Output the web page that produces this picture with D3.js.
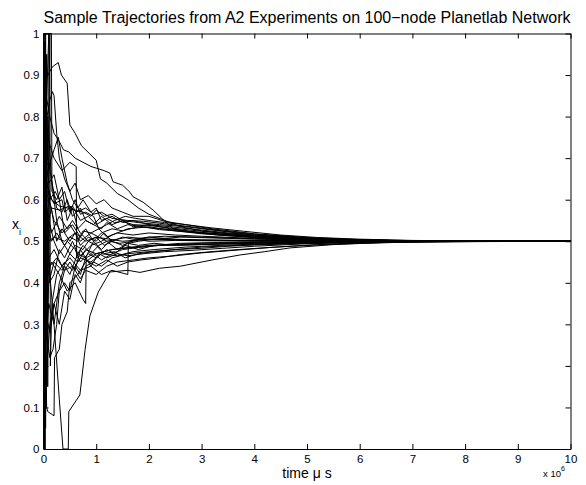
<!DOCTYPE html>
<html>
<head>
<meta charset="utf-8">
<script src="https://cdn.jsdelivr.net/npm/d3@7"></script>
<style>
  body { margin: 0; background: #fff; }
  svg { font-family: "Liberation Sans", Arial, sans-serif; }
</style>
</head>
<body>
<div id="chart"></div>
<script>
// tick values
var xTicks = [0, 1, 2, 3, 4, 5, 6, 7, 8, 9, 10];
var yTicks = [0, 0.1, 0.2, 0.3, 0.4, 0.5, 0.6, 0.7, 0.8, 0.9, 1];

// trajectories: [time (x10^6 us), x_i]
var tr01 = [[0,0.88],[0.08,0.9],[0.17,0.92],[0.28,0.93],[0.34,0.9],[0.45,0.88],[0.5,0.78],[0.6,0.76],[0.72,0.73],[0.88,0.71],[1.0,0.695],[1.08,0.65],[1.2,0.64],[1.4,0.615],[1.6,0.6],[1.8,0.58],[2.0,0.565],[2.3,0.55],[2.6,0.535],[3.0,0.525],[3.5,0.518],[4.2,0.511],[5,0.506],[6,0.503],[7,0.501],[8.5,0.5005],[10,0.5]];
var tr02 = [[0,0.3],[0.05,0.85],[0.12,0.8],[0.2,0.76],[0.3,0.74],[0.38,0.72],[0.48,0.715],[0.6,0.7],[0.75,0.69],[0.9,0.68],[1.0,0.676],[1.15,0.67],[1.26,0.664],[1.32,0.643],[1.5,0.635],[1.64,0.618],[1.7,0.607],[1.89,0.594],[2.08,0.575],[2.27,0.552],[2.46,0.53],[2.8,0.522],[3.3,0.515],[4,0.509],[5,0.505],[6,0.502],[7,0.501],[10,0.5]];
var tr03 = [[0,0.45],[0.04,0.78],[0.1,0.74],[0.2,0.7],[0.35,0.67],[0.5,0.69],[0.62,0.68],[0.63,0.46],[0.75,0.47],[0.9,0.49],[1.1,0.5],[1.3,0.515],[1.6,0.53],[2.0,0.535],[2.5,0.525],[3,0.518],[4,0.509],[5,0.505],[6,0.502],[7,0.5008],[10,0.5]];
var tr04 = [[0,0.7],[0.05,0.65],[0.15,0.6],[0.3,0.585],[0.45,0.58],[0.6,0.575],[0.75,0.57],[0.9,0.56],[1.0,0.575],[1.15,0.56],[1.3,0.565],[1.5,0.55],[1.8,0.545],[2.2,0.54],[2.7,0.535],[3.2,0.527],[4,0.515],[5,0.507],[6,0.503],[7,0.501],[10,0.5]];
var tr05 = [[0,0.6],[0.08,0.62],[0.2,0.59],[0.35,0.6],[0.4,0.57],[0.55,0.585],[0.7,0.55],[0.85,0.56],[1.0,0.54],[1.2,0.555],[1.35,0.545],[1.5,0.548],[1.7,0.54],[2.0,0.538],[2.4,0.532],[3,0.524],[4,0.513],[5,0.506],[6,0.503],[7,0.501],[10,0.5]];
var tr06 = [[0,0.05],[0.03,0.6],[0.1,0.45],[0.2,0.3],[0.3,0.12],[0.37,0],[0.47,0],[0.48,0.09],[0.69,0.13],[0.79,0.24],[0.88,0.32],[1.04,0.378],[1.26,0.426],[1.6,0.43],[1.83,0.425],[2.2,0.435],[2.6,0.44],[3.2,0.455],[3.73,0.467],[4.2,0.475],[4.68,0.484],[5.5,0.492],[6.5,0.497],[7.5,0.499],[10,0.5]];
var tr07 = [[0,0.95],[0.03,0.3],[0.06,0.1],[0.08,0.09],[0.2,0.08],[0.21,0.22],[0.3,0.24],[0.35,0.3],[0.45,0.33],[0.5,0.4],[0.65,0.42],[0.8,0.45],[1.0,0.47],[1.3,0.48],[1.7,0.485],[2.2,0.49],[3,0.493],[4,0.496],[5,0.498],[7,0.4995],[10,0.5]];
var tr08 = [[0,0.05],[0.05,0.32],[0.12,0.28],[0.2,0.35],[0.3,0.3],[0.4,0.38],[0.5,0.36],[0.6,0.42],[0.7,0.4],[0.8,0.44],[0.95,0.45],[1.1,0.44],[1.3,0.46],[1.6,0.47],[2,0.475],[2.5,0.48],[3,0.486],[4,0.492],[5,0.496],[7,0.4993],[10,0.5]];
var tr09 = [[0,0.15],[0.05,0.4],[0.15,0.45],[0.3,0.42],[0.45,0.38],[0.6,0.4],[0.75,0.36],[0.8,0.35],[0.81,0.46],[0.95,0.47],[1.1,0.455],[1.3,0.47],[1.5,0.48],[1.8,0.485],[2.2,0.49],[3,0.492],[4,0.496],[5,0.498],[7,0.4995],[10,0.5]];
var tr10 = [[0,0.5],[0.05,0.45],[0.2,0.48],[0.35,0.44],[0.5,0.46],[0.7,0.43],[0.9,0.44],[1.1,0.42],[1.3,0.43],[1.6,0.42],[1.61,0.495],[1.8,0.5],[2.1,0.505],[2.6,0.51],[3.2,0.508],[4,0.505],[5,0.503],[7,0.5006],[10,0.5]];
var tr11 = [[0,0.35],[0.06,0.55],[0.15,0.5],[0.25,0.52],[0.4,0.49],[0.5,0.51],[0.65,0.5],[0.75,0.525],[0.9,0.52],[1.05,0.53],[1.2,0.51],[1.4,0.52],[1.7,0.515],[2.0,0.52],[2.5,0.515],[3,0.512],[4,0.507],[5,0.504],[7,0.5008],[10,0.5]];
var tr12 = [[0,0.8],[0.04,0.6],[0.1,0.55],[0.2,0.5],[0.3,0.47],[0.45,0.5],[0.6,0.48],[0.7,0.45],[0.85,0.47],[1.0,0.46],[1.2,0.48],[1.35,0.47],[1.55,0.49],[1.8,0.48],[2.1,0.49],[2.6,0.495],[3.3,0.497],[4,0.498],[5,0.499],[10,0.5]];
var tr13 = [[0,0.65],[0.05,0.58],[0.15,0.52],[0.3,0.56],[0.45,0.53],[0.55,0.55],[0.7,0.52],[0.85,0.5],[1.0,0.51],[1.15,0.49],[1.3,0.5],[1.5,0.49],[1.75,0.505],[2,0.5],[2.5,0.502],[3.2,0.501],[4,0.5],[10,0.5]];
var tr14 = [[0,0.2],[0.05,0.65],[0.12,0.6],[0.22,0.62],[0.3,0.6],[0.4,0.52],[0.55,0.54],[0.7,0.51],[0.8,0.53],[0.95,0.5],[1.1,0.52],[1.3,0.53],[1.5,0.525],[1.8,0.535],[2.2,0.53],[2.7,0.525],[3.3,0.518],[4,0.51],[5,0.505],[6,0.502],[7,0.5008],[10,0.5]];
var tr15 = [[0,0.4],[0.05,0.5],[0.12,0.44],[0.25,0.46],[0.4,0.43],[0.55,0.44],[0.7,0.41],[0.8,0.43],[1.0,0.42],[1.2,0.44],[1.4,0.45],[1.7,0.455],[2,0.46],[2.5,0.465],[3,0.472],[3.6,0.478],[4.3,0.485],[5,0.49],[6,0.495],[7,0.498],[8,0.4993],[10,0.5]];
var tr16 = [[0,0.98],[0.02,0.7],[0.1,0.68],[0.2,0.72],[0.28,0.75],[0.35,0.7],[0.45,0.64],[0.55,0.6],[0.65,0.58],[0.75,0.6],[0.9,0.57],[1.0,0.58],[1.1,0.55],[1.3,0.56],[1.5,0.545],[1.7,0.55],[2.0,0.54],[2.4,0.53],[3,0.52],[4,0.512],[5,0.506],[6,0.503],[7,0.501],[10,0.5]];
var tr17 = [[0,0.05],[0.04,0.25],[0.1,0.35],[0.2,0.3],[0.3,0.4],[0.4,0.44],[0.5,0.42],[0.65,0.47],[0.8,0.46],[0.95,0.5],[1.1,0.48],[1.25,0.5],[1.45,0.495],[1.7,0.5],[2,0.51],[2.5,0.505],[3,0.503],[4,0.502],[5,0.501],[10,0.5]];
var tr18 = [[0,1.0],[0.15,1.0],[0.16,0.62],[0.25,0.6],[0.35,0.63],[0.45,0.55],[0.55,0.58],[0.65,0.53],[0.8,0.55],[0.95,0.54],[1.1,0.56],[1.3,0.54],[1.5,0.55],[1.7,0.535],[2,0.54],[2.4,0.535],[3,0.527],[3.5,0.52],[4,0.515],[5,0.507],[6,0.503],[7,0.501],[10,0.5]];
var tr19 = [[0,0.15],[0.03,0.9],[0.08,0.7],[0.15,0.65],[0.25,0.55],[0.35,0.5],[0.5,0.47],[0.6,0.49],[0.75,0.48],[0.85,0.5],[1.0,0.49],[1.15,0.47],[1.35,0.475],[1.55,0.46],[1.8,0.47],[2.1,0.475],[2.5,0.48],[3,0.483],[3.5,0.488],[4,0.491],[5,0.495],[6,0.498],[7,0.4993],[10,0.5]];
var tr20 = [[0,0.7],[0.02,0.05],[0.06,0.2],[0.12,0.3],[0.2,0.35],[0.3,0.38],[0.4,0.43],[0.5,0.45],[0.6,0.43],[0.7,0.48],[0.85,0.45],[1.0,0.44],[1.2,0.455],[1.4,0.44],[1.6,0.45],[1.85,0.455],[2.2,0.46],[2.6,0.468],[3.1,0.474],[3.7,0.48],[4.4,0.486],[5.2,0.492],[6,0.496],[7,0.4985],[8,0.4996],[10,0.5]];
var tr21 = [[0,0.9],[0.03,0.2],[0.08,0.8],[0.15,0.65],[0.25,0.58],[0.35,0.57],[0.45,0.6],[0.55,0.56],[0.7,0.58],[0.8,0.55],[0.95,0.54],[1.1,0.53],[1.2,0.545],[1.4,0.53],[1.6,0.54],[1.9,0.535],[2.2,0.528],[2.6,0.524],[3,0.52],[4,0.51],[5,0.504],[6,0.502],[7,0.5007],[10,0.5]];
var tr22 = [[0,0.3],[0.05,0.52],[0.15,0.58],[0.25,0.5],[0.35,0.53],[0.5,0.5],[0.6,0.52],[0.7,0.49],[0.85,0.51],[1.0,0.5],[1.15,0.52],[1.3,0.5],[1.5,0.51],[1.7,0.505],[2,0.51],[2.3,0.512],[3,0.51],[4,0.506],[5,0.503],[7,0.5005],[10,0.5]];
var tr23 = [[0,0.6],[0.1,1.0],[0.11,0.4],[0.2,0.42],[0.3,0.48],[0.4,0.46],[0.55,0.5],[0.65,0.47],[0.75,0.49],[0.9,0.47],[1.05,0.49],[1.2,0.5],[1.4,0.48],[1.6,0.495],[1.8,0.49],[2.1,0.495],[2.5,0.49],[3,0.492],[4,0.495],[5,0.497],[6,0.499],[10,0.5]];
var tr24 = [[0,0.1],[0.05,0.28],[0.12,0.22],[0.18,0.24],[0.25,0.3],[0.3,0.38],[0.4,0.4],[0.5,0.38],[0.6,0.44],[0.7,0.42],[0.8,0.46],[0.9,0.44],[1.05,0.47],[1.2,0.46],[1.4,0.47],[1.6,0.465],[1.9,0.47],[2.3,0.475],[2.8,0.478],[3.4,0.483],[4,0.488],[5,0.494],[6,0.497],[7,0.499],[10,0.5]];
var tr25 = [[0,0.55],[0.04,0.7],[0.1,0.64],[0.2,0.66],[0.3,0.6],[0.4,0.62],[0.5,0.57],[0.6,0.6],[0.7,0.565],[0.8,0.57],[0.95,0.56],[1.05,0.53],[1.2,0.54],[1.35,0.55],[1.55,0.56],[1.75,0.555],[2,0.55],[2.3,0.545],[2.7,0.54],[3.2,0.532],[3.8,0.524],[4.5,0.515],[5.2,0.509],[6,0.505],[7,0.502],[8,0.5006],[10,0.5]];
var tr26 = [[0,0.0],[0.01,1.0],[0.03,0.0],[0.05,0.6],[0.1,0.5],[0.2,0.51],[0.4,0.5],[0.6,0.52],[0.8,0.5],[1,0.51],[1.5,0.5],[2,0.505],[3,0.502],[10,0.5]];
var tr27 = [[0,1.0],[0.02,0.0],[0.04,1.0],[0.06,0.3],[0.1,0.4],[0.2,0.45],[0.35,0.43],[0.5,0.47],[0.65,0.45],[0.8,0.48],[1,0.47],[1.3,0.48],[1.6,0.485],[2,0.49],[3,0.495],[4,0.497],[5,0.499],[10,0.5]];
var tr28 = [[0,0.75],[0.12,0.84],[0.17,0.86],[0.2,0.85],[0.25,0.76],[0.3,0.7],[0.4,0.65],[0.5,0.62],[0.6,0.64],[0.7,0.6],[0.85,0.61],[1,0.59],[1.15,0.6],[1.3,0.58],[1.5,0.57],[1.7,0.56],[2,0.56],[2.3,0.548],[2.7,0.54],[3.2,0.53],[4,0.518],[5,0.509],[6,0.504],[7,0.5015],[10,0.5]];
var tr29 = [[0,0.02],[0.02,0.98],[0.04,0.05],[0.06,0.95],[0.08,0.15],[0.1,0.6],[0.2,0.55],[0.35,0.52],[0.5,0.54],[0.7,0.5],[0.9,0.52],[1.2,0.5],[1.6,0.51],[2,0.505],[3,0.503],[4,0.501],[10,0.5]];
var tr30 = [[0,0.9],[0.05,0.1],[0.12,1.0],[0.13,0.2],[0.16,0.35],[0.25,0.42],[0.4,0.45],[0.55,0.43],[0.7,0.46],[0.9,0.45],[1.1,0.47],[1.4,0.465],[1.7,0.475],[2.1,0.48],[2.7,0.486],[3.5,0.491],[4.5,0.495],[6,0.498],[10,0.5]];
var tr31 = [[0,0.85],[0.05,0.62],[0.15,0.58],[0.3,0.575],[0.5,0.585],[0.62,0.57],[0.8,0.58],[0.95,0.565],[1.1,0.57],[1.3,0.555],[1.6,0.55],[1.9,0.548],[2.3,0.542],[2.8,0.535],[3.4,0.525],[4,0.517],[5,0.508],[6,0.503],[7,0.501],[10,0.5]];

var trajectories = [tr01, tr02, tr03, tr04, tr05, tr06, tr07, tr08, tr09, tr10, tr11, tr12, tr13, tr14, tr15, tr16,
                    tr17, tr18, tr19, tr20, tr21, tr22, tr23, tr24, tr25, tr26, tr27, tr28, tr29, tr30, tr31];

var W = 586, H = 485;
var margin = {top: 33.5, right: 15.5, bottom: 36, left: 43.5};

var svg = d3.select("#chart").append("svg")
  .attr("width", W)
  .attr("height", H);

var x = d3.scaleLinear().domain([0, 10]).range([margin.left, W - margin.right]);
var y = d3.scaleLinear().domain([0, 1]).range([H - margin.bottom, margin.top]);

var line = d3.line()
  .x(function(d) { return x(d[0]); })
  .y(function(d) { return y(d[1]); });

svg.append("g").selectAll("path")
  .data(trajectories)
  .enter()
  .append("path")
    .attr("d", line)
    .attr("fill", "none")
    .attr("stroke", "#000")
    .attr("stroke-width", 1)
    .attr("stroke-linejoin", "round");

// axes, MATLAB style box with ticks pointing inwards
svg.append("g")
  .attr("transform", "translate(0," + y(0) + ")")
  .call(d3.axisBottom(x).tickValues(xTicks).tickSizeInner(-5).tickSizeOuter(0).tickPadding(5.5)
        .tickFormat(function(d) { return d; }));
svg.append("g")
  .attr("transform", "translate(0," + y(1) + ")")
  .call(d3.axisTop(x).tickValues(xTicks).tickSizeInner(-5).tickSizeOuter(0).tickFormat(""));
svg.append("g")
  .attr("transform", "translate(" + x(0) + ",0)")
  .call(d3.axisLeft(y).tickValues(yTicks).tickSizeInner(-5).tickSizeOuter(0).tickPadding(4)
        .tickFormat(function(d) { return d; }));
svg.append("g")
  .attr("transform", "translate(" + x(10) + ",0)")
  .call(d3.axisRight(y).tickValues(yTicks).tickSizeInner(-5).tickSizeOuter(0).tickFormat(""));

svg.selectAll(".domain").attr("stroke", "#000").attr("stroke-width", 1);
svg.selectAll(".tick line").attr("stroke", "#000");
svg.selectAll(".tick text").attr("font-size", "11.5px").attr("fill", "#000")
  .attr("font-family", "'Liberation Sans', Arial, sans-serif");

// titles and labels
svg.append("text")
  .attr("x", (x(0) + x(10)) / 2)
  .attr("y", 23)
  .attr("text-anchor", "middle")
  .attr("font-size", "16px")
  .text("Sample Trajectories from A2 Experiments on 100\u2212node Planetlab Network");

svg.append("text")
  .attr("x", (x(0) + x(10)) / 2)
  .attr("y", 478)
  .attr("text-anchor", "middle")
  .attr("font-size", "14px")
  .text("time \u03bc s");

var yl = svg.append("text")
  .attr("x", 12)
  .attr("y", 229)
  .attr("font-size", "14px");
yl.append("tspan").text("x");
yl.append("tspan").attr("font-size", "9px").attr("dy", 6).text("i");

var ex = svg.append("text")
  .attr("x", 543)
  .attr("y", 477)
  .attr("font-size", "9.5px");
ex.append("tspan").text("x 10");
ex.append("tspan").attr("font-size", "7px").attr("dy", -6).text("6");
</script>
</body>
</html>
